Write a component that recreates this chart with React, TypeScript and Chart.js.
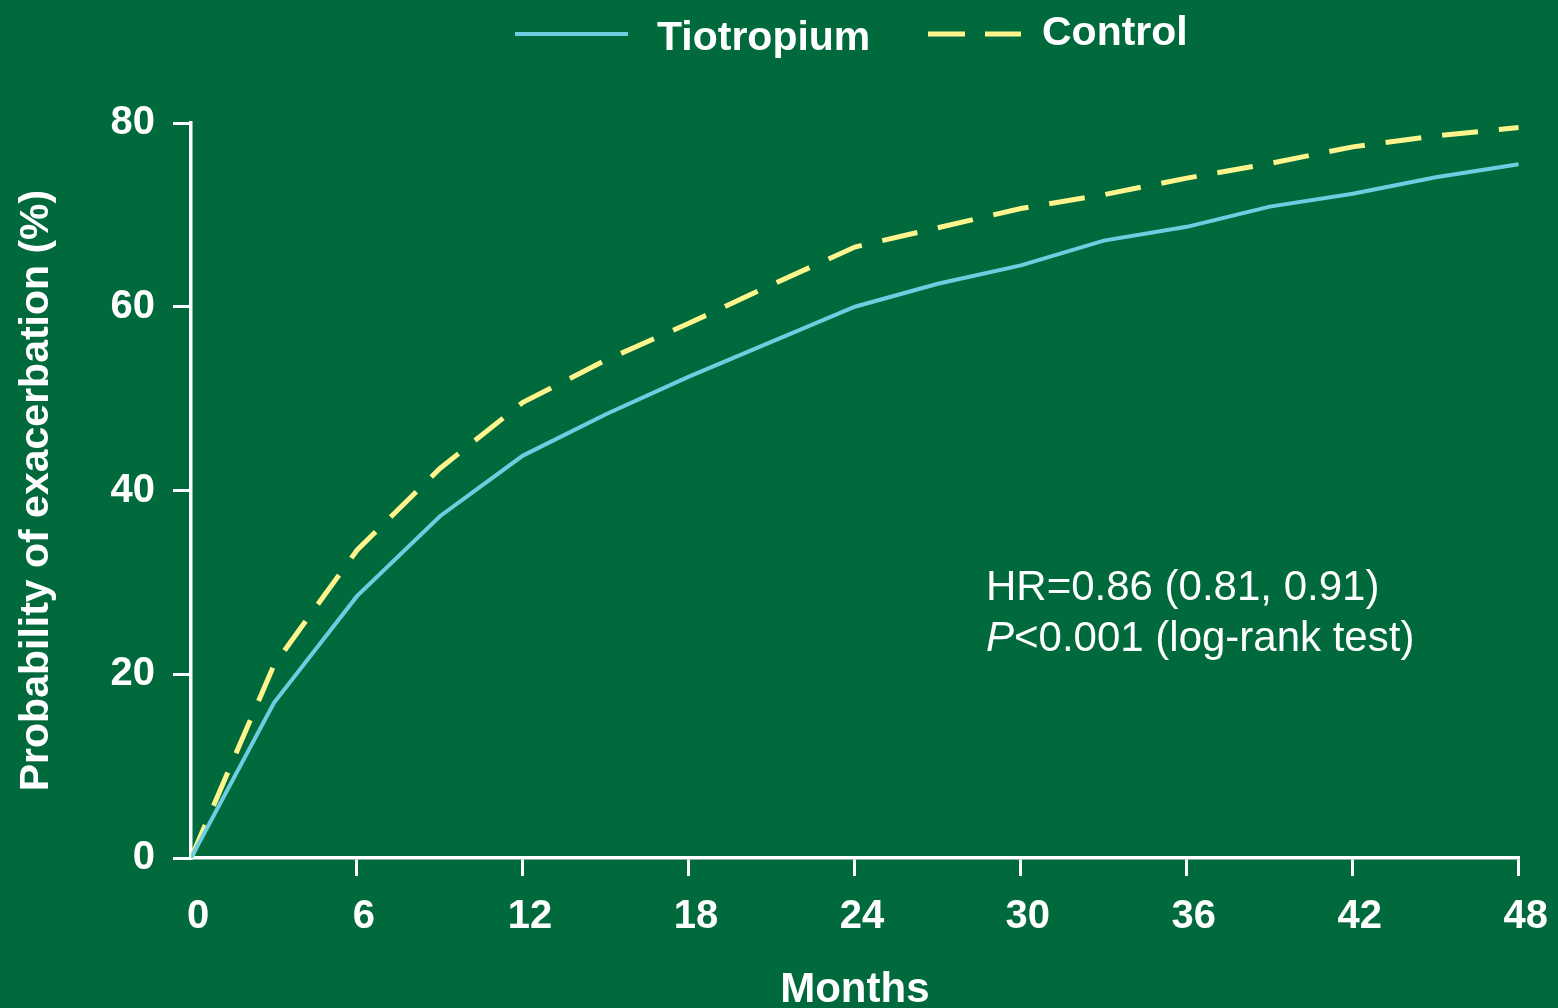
import React, { useEffect, useRef } from "react";
import { Chart, registerables } from "chart.js";

Chart.register(...registerables);

const months: number[] = [0, 3, 6, 9, 12, 15, 18, 21, 24, 27, 30, 33, 36, 39, 42, 45, 48];
const tiotropium: number[] = [0, 16.9, 28.5, 37.2, 43.8, 48.3, 52.4, 56.2, 60.0, 62.5, 64.5, 67.2, 68.7, 70.9, 72.3, 74.1, 75.5];
const control: number[] = [0, 21.0, 33.5, 42.4, 49.6, 54.2, 58.2, 62.4, 66.5, 68.6, 70.7, 72.2, 74.0, 75.6, 77.4, 78.6, 79.5];
const xTicks: number[] = [0, 6, 12, 18, 24, 30, 36, 42, 48];
const yTicks: number[] = [0, 20, 40, 60, 80];
const seriesNames: string[] = ["Tiotropium", "Control"];
const annotationLines: string[] = ["HR=0.86 (0.81, 0.91)", "<0.001 (log-rank test)"];

const BG = "#006A3C";
const CYAN = "#6CCEE0";
const YELLOW = "#FFF58C";
const FONT = '"Liberation Sans", Arial, sans-serif';
const DASH = [36, 21];

export default function App() {
  const ref = useRef<HTMLCanvasElement | null>(null);

  useEffect(() => {
    if (!ref.current) return;

    const bgPlugin = {
      id: "bg",
      beforeDraw(chart: any) {
        const c = chart.ctx;
        c.save();
        c.fillStyle = BG;
        c.fillRect(0, 0, chart.width, chart.height);
        c.restore();
      },
    };

    const legendPlugin = {
      id: "customLegend",
      afterDraw(chart: any) {
        const c = chart.ctx;
        const ds = chart.data.datasets;
        c.save();
        c.strokeStyle = ds[0].borderColor;
        c.lineWidth = 4;
        c.setLineDash([]);
        c.beginPath();
        c.moveTo(515, 34);
        c.lineTo(628, 34);
        c.stroke();
        c.fillStyle = "#ffffff";
        c.font = `bold 41px ${FONT}`;
        c.textBaseline = "alphabetic";
        c.textAlign = "left";
        c.fillText(ds[0].label, 657, 50);
        c.strokeStyle = ds[1].borderColor;
        c.lineWidth = 5;
        c.setLineDash([37, 20]);
        c.beginPath();
        c.moveTo(928, 34);
        c.lineTo(1021, 34);
        c.stroke();
        c.setLineDash([]);
        c.fillText(ds[1].label, 1042, 45);
        c.restore();
      },
    };

    const annotationPlugin = {
      id: "annot",
      afterDraw(chart: any) {
        const c = chart.ctx;
        c.save();
        c.fillStyle = "#ffffff";
        c.textAlign = "left";
        c.textBaseline = "alphabetic";
        c.font = `42px ${FONT}`;
        c.fillText(annotationLines[0], 986, 600);
        c.font = `italic 42px ${FONT}`;
        c.fillText("P", 986, 651);
        const pw = c.measureText("P").width;
        c.font = `42px ${FONT}`;
        c.fillText(annotationLines[1], 986 + pw, 651);
        c.restore();
      },
    };

    const chart = new Chart(ref.current, {
      type: "line",
      data: {
        datasets: [
          {
            label: seriesNames[0],
            data: months.map((m, i) => ({ x: m, y: tiotropium[i] })),
            borderColor: CYAN,
            borderWidth: 4,
            pointRadius: 0,
            tension: 0,
            fill: false,
          },
          {
            label: seriesNames[1],
            data: months.map((m, i) => ({ x: m, y: control[i] })),
            borderColor: YELLOW,
            borderWidth: 5,
            borderDash: DASH,
            pointRadius: 0,
            tension: 0,
            fill: false,
          },
        ],
      },
      options: {
        responsive: false,
        animation: false,
        devicePixelRatio: 1,
        layout: { padding: { left: 0, right: 37, top: 123, bottom: 0 } },
        plugins: {
          legend: { display: false },
          tooltip: { enabled: false },
        },
        scales: {
          x: {
            type: "linear",
            min: 0,
            max: 48,
            afterBuildTicks: (scale: any) => {
              scale.ticks = xTicks.map((v) => ({ value: v }));
            },
            afterFit: (scale: any) => {
              scale.height = 150;
            },
            ticks: {
              color: "#ffffff",
              font: { family: FONT, size: 40, weight: "bold" },
              padding: 17,
              labelOffset: 7,
              maxRotation: 0,
              autoSkip: false,
            },
            grid: {
              drawOnChartArea: false,
              drawTicks: true,
              tickLength: 18,
              lineWidth: 3,
              color: (ctx: any) => (ctx.index === 0 ? "rgba(0,0,0,0)" : "#ffffff"),
            },
            border: { display: true, color: "#ffffff", width: 3.5 },
            title: {
              display: true,
              text: "Months",
              color: "#ffffff",
              font: { family: FONT, size: 42, weight: "bold", lineHeight: 1 },
              padding: { top: 0, bottom: -3 },
            },
          },
          y: {
            type: "linear",
            min: 0,
            max: 80,
            afterBuildTicks: (scale: any) => {
              scale.ticks = yTicks.map((v) => ({ value: v }));
            },
            afterFit: (scale: any) => {
              scale.width = 191;
            },
            ticks: {
              color: "#ffffff",
              font: { family: FONT, size: 40, weight: "bold" },
              padding: 18,
              autoSkip: false,
            },
            grid: {
              drawOnChartArea: false,
              drawTicks: true,
              tickLength: 18,
              lineWidth: 3,
              color: "#ffffff",
            },
            border: { display: true, color: "#ffffff", width: 3.5 },
            title: {
              display: true,
              text: "Probability of exacerbation (%)",
              color: "#ffffff",
              font: { family: FONT, size: 41, weight: "bold", lineHeight: 1.2 },
              padding: { top: 12, bottom: 0 },
            },
          },
        },
      },
      plugins: [bgPlugin, legendPlugin, annotationPlugin],
    } as any);

    return () => chart.destroy();
  }, []);

  return (
    <div style={{ position: "fixed", left: 0, top: 0, width: 1558, height: 1008, background: BG }}>
      <canvas ref={ref} width={1558} height={1008} style={{ display: "block" }} />
    </div>
  );
}
